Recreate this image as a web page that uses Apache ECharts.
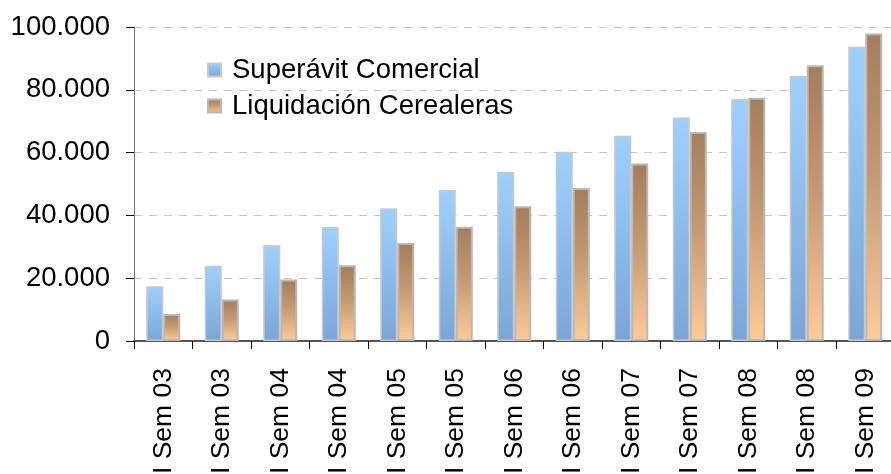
<!DOCTYPE html>
<html>
<head>
<meta charset="utf-8">
<script src="https://cdn.jsdelivr.net/npm/echarts@6/dist/echarts.min.js"></script>
<style>
html, body { margin: 0; padding: 0; background: #fff; }
#main { width: 891px; height: 474px; }
</style>
</head>
<body>
<div id="main"></div>
<script>
var categories = ['I Sem 03', 'II Sem 03', 'I Sem 04', 'II Sem 04', 'I Sem 05', 'II Sem 05', 'I Sem 06',
    'II Sem 06', 'I Sem 07', 'II Sem 07', 'I Sem 08', 'II Sem 08', 'I Sem 09'];
var superavit = [17400, 24000, 30500, 36300, 42300, 48100, 53800, 60300, 65400, 71200, 77100, 84400, 93700];
var liquidacion = [8600, 13200, 19600, 24100, 31200, 36400, 42900, 48700, 56500, 66600, 77500, 87800, 97900];
var seriesNames = ['Superávit Comercial', 'Liquidación Cerealeras'];

var chartDom = document.getElementById('main');
var myChart = echarts.init(chartDom, null, { renderer: 'canvas' });

var blueFill = new echarts.graphic.LinearGradient(0, 0, 0, 1, [
    { offset: 0, color: '#9ed0ff' },
    { offset: 1, color: '#7aa6d6' }
]);
var brownFill = new echarts.graphic.LinearGradient(0, 0, 0, 1, [
    { offset: 0, color: '#a57d5c' },
    { offset: 0.45, color: '#c49870' },
    { offset: 1, color: '#ffcb98' }
]);

function thousands(v) {
    return String(v).replace(/\B(?=(\d{3})+(?!\d))/g, '.');
}

var option = {
    animation: false,
    textStyle: {
        fontFamily: 'Liberation Sans'
    },
    legend: {
        orient: 'vertical',
        left: 202,
        top: 51,
        itemWidth: 13,
        itemHeight: 13,
        itemGap: 8,
        icon: 'rect',
        data: seriesNames,
        textStyle: {
            fontSize: 27.5,
            color: '#000',
            padding: [0, 0, 0, 6]
        }
    },
    grid: {
        left: 134,
        right: -3.5,
        top: 27,
        bottom: 133,
        outerBoundsMode: 'none',
        containLabel: false
    },
    xAxis: {
        type: 'category',
        data: categories,
        axisLine: { lineStyle: { color: '#555', width: 2 } },
        axisTick: { show: true, length: 8, lineStyle: { color: '#000' } },
        axisLabel: {
            rotate: 90,
            margin: 27,
            fontSize: 26.5,
            color: '#000',
            interval: 0
        }
    },
    yAxis: {
        type: 'value',
        min: 0,
        max: 100000,
        interval: 20000,
        axisLine: { show: true, lineStyle: { color: '#777', width: 1 } },
        axisTick: { show: true, length: 8, lineStyle: { color: '#000' } },
        axisLabel: {
            margin: 24,
            fontSize: 27.5,
            color: '#000',
            formatter: thousands
        },
        splitLine: {
            lineStyle: { color: '#c4c4c4', type: [8, 7], width: 1 }
        }
    },
    series: [
        {
            name: seriesNames[0],
            type: 'bar',
            data: superavit,
            barWidth: 17,
            barGap: '0%',
            itemStyle: {
                color: blueFill,
                borderColor: '#c8c8c8',
                borderWidth: 1.5
            }
        },
        {
            name: seriesNames[1],
            type: 'bar',
            data: liquidacion,
            barWidth: 17,
            itemStyle: {
                color: brownFill,
                borderColor: '#b8b8b8',
                borderWidth: 2
            }
        }
    ]
};

myChart.setOption(option);
</script>
</body>
</html>
